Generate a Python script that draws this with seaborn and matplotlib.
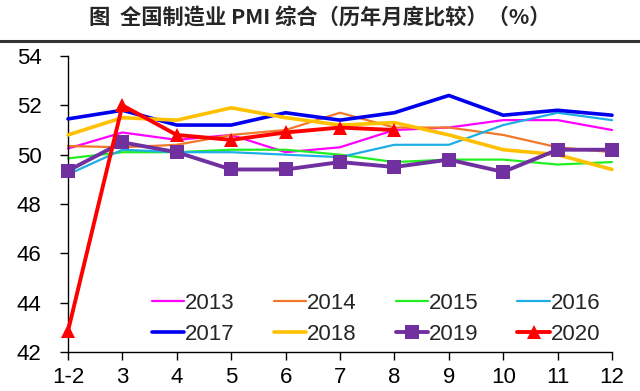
import matplotlib
matplotlib.use("Agg")
import matplotlib.pyplot as plt
import seaborn as sns
import pandas as pd
import numpy as np

months = ["1-2", "3", "4", "5", "6", "7", "8", "9", "10", "11", "12"]
pmi_2013 = [50.25, 50.9, 50.6, 50.8, 50.1, 50.3, 51.0, 51.1, 51.4, 51.4, 51.0]
pmi_2014 = [50.35, 50.3, 50.4, 50.8, 51.0, 51.7, 51.1, 51.1, 50.8, 50.3, 50.1]
pmi_2015 = [49.85, 50.1, 50.1, 50.2, 50.2, 50.0, 49.7, 49.8, 49.8, 49.6, 49.7]
pmi_2016 = [49.2, 50.2, 50.1, 50.1, 50.0, 49.9, 50.4, 50.4, 51.2, 51.7, 51.4]
pmi_2017 = [51.45, 51.8, 51.2, 51.2, 51.7, 51.4, 51.7, 52.4, 51.6, 51.8, 51.6]
pmi_2018 = [50.8, 51.5, 51.4, 51.9, 51.5, 51.2, 51.3, 50.8, 50.2, 50.0, 49.4]
pmi_2019 = [49.35, 50.5, 50.1, 49.4, 49.4, 49.7, 49.5, 49.8, 49.3, 50.2, 50.2]
pmi_2020 = [42.85, 52.0, 50.8, 50.6, 50.9, 51.1, 51.0]

years = ["2013", "2014", "2015", "2016", "2017", "2018", "2019", "2020"]
series = [pmi_2013, pmi_2014, pmi_2015, pmi_2016, pmi_2017, pmi_2018, pmi_2019, pmi_2020]

styles = {
    "2013": dict(color="#FF00FF", lw=1.6, marker=None, z=2),
    "2014": dict(color="#F07828", lw=1.6, marker=None, z=2),
    "2015": dict(color="#22EE22", lw=1.6, marker=None, z=2),
    "2016": dict(color="#1EAEE6", lw=1.6, marker=None, z=2),
    "2017": dict(color="#0000F0", lw=2.6, marker=None, z=3),
    "2018": dict(color="#FFC000", lw=2.6, marker=None, z=3),
    "2019": dict(color="#7030A0", lw=2.8, marker="s", z=4),
    "2020": dict(color="#FF0000", lw=2.8, marker="^", z=5),
}

sns.set_style("white")
plt.rcParams["font.family"] = ["Liberation Sans", "DejaVu Sans"]

fig = plt.figure(figsize=(6.4, 3.91), dpi=100)
ax = fig.add_axes([68/640, 1-352/391, (612-68)/640, (352-56)/391])

for yr, vals in zip(years, series):
    st = styles[yr]
    df = pd.DataFrame({"x": np.arange(len(vals)), "y": vals})
    sns.lineplot(data=df, x="x", y="y", ax=ax, color=st["color"], lw=st["lw"],
                 marker=st["marker"], markersize=10.5, markeredgewidth=0,
                 label=yr, zorder=st["z"], clip_on=False)

ax.set_xlim(0, len(months) - 1)
ax.set_ylim(42, 54)
ax.set_yticks(np.arange(42, 55, 2))
ax.set_xticks(np.arange(len(months)))
ax.set_xticklabels(months)
ax.set_xlabel("")
ax.set_ylabel("")
for s in ["top", "right"]:
    ax.spines[s].set_visible(False)
for s in ["left", "bottom"]:
    ax.spines[s].set_color("black")
    ax.spines[s].set_linewidth(1.0)
ax.tick_params(axis="both", direction="out", length=6, width=1, color="black",
               labelsize=16, labelcolor="black", left=True, bottom=True)
ax.tick_params(axis="y", pad=13)
ax.tick_params(axis="x", pad=5)

handles, labels = ax.get_legend_handles_labels()
order = [0, 4, 1, 5, 2, 6, 3, 7]
leg = ax.legend([handles[i] for i in order], [labels[i] for i in order],
                ncol=4, loc="lower right", bbox_to_anchor=(0.995, -0.005), frameon=False,
                fontsize=16, handlelength=1.45, handletextpad=0.05,
                columnspacing=1.75, labelspacing=0.45, borderaxespad=0.0)

fig.text(0.5, 1-18/391, "图  全国制造业 PMI 综合（历年月度比较）（%）", ha="center", va="center",
         fontsize=15.3, fontweight="bold", family=["Noto Sans CJK SC", "DejaVu Sans"])
fig.add_artist(plt.Line2D([0, 1], [1-41/391, 1-41/391], color="#333333", lw=2.2))

fig.savefig("out.png", dpi=100)
